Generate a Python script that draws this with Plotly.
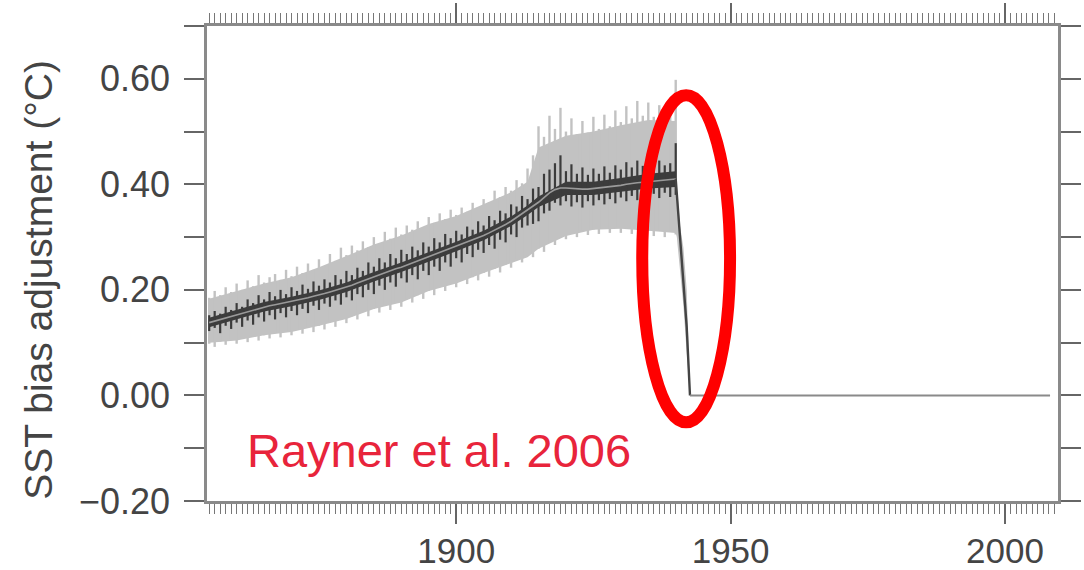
import plotly.graph_objects as go

# ---------------- data ----------------
years = list(range(1855, 1941))

center = [0.138, 0.141, 0.144, 0.147, 0.150, 0.153, 0.156, 0.159, 0.162, 0.165,
          0.168, 0.170, 0.172, 0.174, 0.176, 0.178, 0.180, 0.183, 0.185, 0.188,
          0.190, 0.193, 0.196, 0.199, 0.202, 0.205, 0.209, 0.213, 0.217, 0.221,
          0.225, 0.229, 0.232, 0.236, 0.240, 0.243, 0.247, 0.251, 0.254, 0.258,
          0.262, 0.266, 0.270, 0.274, 0.278, 0.282, 0.286, 0.290, 0.294, 0.298,
          0.303, 0.308, 0.313, 0.318, 0.324, 0.330, 0.337, 0.344, 0.351, 0.358,
          0.366, 0.375, 0.384, 0.390, 0.393, 0.393, 0.392, 0.391, 0.391, 0.391,
          0.392, 0.393, 0.394, 0.395, 0.396, 0.398, 0.400, 0.402, 0.403, 0.404,
          0.405, 0.406, 0.407, 0.408, 0.409, 0.410]

# yearly spike extremes of the uncertainty range
gray_hi = [0.185, 0.198, 0.190, 0.205, 0.196, 0.212, 0.200, 0.218, 0.207, 0.228,
           0.214, 0.224, 0.230, 0.219, 0.238, 0.226, 0.244, 0.232, 0.250, 0.238,
           0.258, 0.245, 0.268, 0.255, 0.280, 0.266, 0.284, 0.275, 0.292, 0.281,
           0.300, 0.288, 0.310, 0.297, 0.318, 0.305, 0.322, 0.314, 0.330, 0.318,
           0.338, 0.327, 0.345, 0.334, 0.352, 0.342, 0.356, 0.348, 0.365, 0.355,
           0.372, 0.366, 0.388, 0.376, 0.395, 0.388, 0.408, 0.402, 0.430, 0.455,
           0.510, 0.490, 0.530, 0.505, 0.545, 0.500, 0.525, 0.495, 0.520, 0.498,
           0.528, 0.505, 0.532, 0.510, 0.540, 0.518, 0.548, 0.525, 0.558, 0.530,
           0.555, 0.528, 0.550, 0.522, 0.540, 0.598]

gray_lo = [0.098, 0.092, 0.102, 0.096, 0.106, 0.098, 0.108, 0.101, 0.112, 0.104,
           0.114, 0.108, 0.118, 0.110, 0.121, 0.114, 0.124, 0.117, 0.128, 0.120,
           0.132, 0.125, 0.138, 0.130, 0.144, 0.137, 0.150, 0.144, 0.158, 0.150,
           0.164, 0.157, 0.170, 0.162, 0.176, 0.168, 0.182, 0.176, 0.190, 0.183,
           0.198, 0.190, 0.205, 0.198, 0.212, 0.205, 0.218, 0.211, 0.224, 0.218,
           0.232, 0.225, 0.240, 0.233, 0.248, 0.242, 0.258, 0.252, 0.265, 0.262,
           0.278, 0.272, 0.290, 0.285, 0.300, 0.296, 0.308, 0.300, 0.312, 0.304,
           0.314, 0.306, 0.316, 0.308, 0.318, 0.308, 0.316, 0.306, 0.314, 0.304,
           0.312, 0.302, 0.312, 0.300, 0.310, 0.305]

# yearly spike extremes of the central estimate
dark_hi = [0.152, 0.160, 0.155, 0.168, 0.162, 0.175, 0.168, 0.182, 0.175, 0.190,
           0.182, 0.196, 0.188, 0.200, 0.192, 0.205, 0.198, 0.210, 0.202, 0.216,
           0.208, 0.220, 0.214, 0.228, 0.220, 0.236, 0.228, 0.242, 0.236, 0.252,
           0.244, 0.260, 0.252, 0.268, 0.260, 0.276, 0.268, 0.282, 0.275, 0.290,
           0.282, 0.298, 0.290, 0.306, 0.298, 0.312, 0.305, 0.320, 0.314, 0.330,
           0.322, 0.340, 0.332, 0.350, 0.345, 0.362, 0.358, 0.378, 0.372, 0.392,
           0.395, 0.420, 0.428, 0.440, 0.455, 0.425, 0.438, 0.420, 0.432, 0.418,
           0.430, 0.420, 0.434, 0.422, 0.436, 0.428, 0.442, 0.432, 0.445, 0.435,
           0.446, 0.436, 0.445, 0.436, 0.440, 0.478]

dark_lo = [0.122, 0.128, 0.118, 0.132, 0.126, 0.138, 0.130, 0.142, 0.134, 0.148,
           0.140, 0.152, 0.144, 0.156, 0.148, 0.160, 0.152, 0.164, 0.156, 0.170,
           0.162, 0.174, 0.168, 0.180, 0.172, 0.186, 0.180, 0.192, 0.186, 0.200,
           0.192, 0.208, 0.200, 0.214, 0.206, 0.222, 0.214, 0.228, 0.220, 0.236,
           0.228, 0.244, 0.236, 0.252, 0.244, 0.260, 0.252, 0.268, 0.262, 0.276,
           0.270, 0.285, 0.278, 0.295, 0.290, 0.305, 0.300, 0.318, 0.322, 0.325,
           0.330, 0.345, 0.350, 0.365, 0.360, 0.368, 0.358, 0.366, 0.356, 0.368,
           0.360, 0.370, 0.362, 0.372, 0.364, 0.375, 0.368, 0.378, 0.370, 0.380,
           0.372, 0.382, 0.374, 0.384, 0.376, 0.380]

# body envelopes (between the spikes), read every five years or so
base_years = [1855, 1860, 1865, 1870, 1875, 1880, 1885, 1890, 1895, 1900,
              1905, 1910, 1913, 1915, 1920, 1925, 1930, 1935, 1940]
gray_base_hi = [0.183, 0.198, 0.212, 0.224, 0.243, 0.264, 0.286, 0.303, 0.325, 0.340,
                0.362, 0.385, 0.405, 0.470, 0.492, 0.500, 0.512, 0.522, 0.520]
gray_base_lo = [0.100, 0.104, 0.114, 0.120, 0.132, 0.145, 0.164, 0.176, 0.198, 0.212,
                0.232, 0.250, 0.262, 0.278, 0.302, 0.314, 0.316, 0.312, 0.308]
dark_base_hi = [0.147, 0.162, 0.177, 0.187, 0.199, 0.214, 0.234, 0.252, 0.271, 0.291,
                0.312, 0.339, 0.360, 0.377, 0.405, 0.405, 0.412, 0.420, 0.425]
dark_base_lo = [0.129, 0.144, 0.159, 0.169, 0.181, 0.196, 0.216, 0.234, 0.253, 0.273,
                0.294, 0.321, 0.342, 0.357, 0.380, 0.380, 0.386, 0.392, 0.395]

# rapid drop of the adjustment around 1940-1942
drop_years = [1940.2, 1940.8, 1941.4, 1942.0, 1942.6]
drop_center = [0.382, 0.294, 0.205, 0.130, 0.0]
drop_gray_hi = [0.40, 0.32, 0.28, 0.20, 0.0]
drop_gray_lo = [0.30, 0.24, 0.17, 0.08, 0.0]

# zero adjustment after 1942
zero_years = [1942.6, 2008.2]
zero_values = [0.0, 0.0]

y_tickvals = [-0.2, 0.0, 0.2, 0.4, 0.6]
y_ticktext = ["\u22120.20", "0.00", "0.20", "0.40", "0.60"]
x_tickvals = [1900, 1950, 2000]
x_ticktext = ["1900", "1950", "2000"]

FONT = "Liberation Sans, Arial, Helvetica, sans-serif"
GRAY_BAND = "#c2c2c2"
DARK = "#3c3c3c"


def spikes(xs, lo, hi):
    """vertical segments from lo to hi at each x, separated by gaps"""
    sx, sy = [], []
    for x, l, h in zip(xs, lo, hi):
        sx += [x, x, None]
        sy += [l, h, None]
    return sx, sy


fig = go.Figure()

# light gray uncertainty band: body + yearly spikes
fig.add_trace(go.Scatter(x=base_years + drop_years, y=gray_base_lo + drop_gray_lo, mode="lines",
                         line=dict(width=0), showlegend=False, hoverinfo="skip"))
fig.add_trace(go.Scatter(x=base_years + drop_years, y=gray_base_hi + drop_gray_hi, mode="lines",
                         line=dict(width=0), fill="tonexty", fillcolor=GRAY_BAND,
                         showlegend=False, hoverinfo="skip"))
gx, gy = spikes(years, gray_lo, gray_hi)
fig.add_trace(go.Scatter(x=gx, y=gy, mode="lines", connectgaps=False,
                         line=dict(width=2.4, color=GRAY_BAND), showlegend=False, hoverinfo="skip"))

# dark central estimate: body + yearly spikes
fig.add_trace(go.Scatter(x=base_years, y=dark_base_lo, mode="lines",
                         line=dict(width=0), showlegend=False, hoverinfo="skip"))
fig.add_trace(go.Scatter(x=base_years, y=dark_base_hi, mode="lines",
                         line=dict(width=0), fill="tonexty", fillcolor=DARK,
                         showlegend=False, hoverinfo="skip"))
dx, dy = spikes(years, dark_lo, dark_hi)
fig.add_trace(go.Scatter(x=dx, y=dy, mode="lines", connectgaps=False,
                         line=dict(width=2.2, color=DARK), showlegend=False, hoverinfo="skip"))

# smoothed centre line
fig.add_trace(go.Scatter(x=years, y=center, mode="lines",
                         line=dict(width=1.6, color="#9a9a9a"), showlegend=False, hoverinfo="skip"))
# drop line
fig.add_trace(go.Scatter(x=[years[-1]] + drop_years, y=[center[-1]] + drop_center, mode="lines",
                         line=dict(width=2.4, color="#444444"), showlegend=False, hoverinfo="skip"))
# zero line
fig.add_trace(go.Scatter(x=zero_years, y=zero_values, mode="lines",
                         line=dict(width=2, color="#8a8a8a"), showlegend=False, hoverinfo="skip"))

# red ellipse highlight
fig.add_shape(type="circle", xref="x", yref="y",
              x0=1933.9, x1=1949.9, y0=-0.051, y1=0.569,
              line=dict(color="#ff0000", width=12))

fig.add_annotation(text="Rayner et al. 2006", xref="x", yref="y",
                   x=1861.6, y=-0.105, xanchor="left", yanchor="middle",
                   showarrow=False, font=dict(family=FONT, size=47, color="#e8243b"))

fig.add_annotation(text="SST bias adjustment (\u00b0C)", xref="paper", yref="paper",
                   x=-0.199, y=0.465, xanchor="center", yanchor="middle",
                   textangle=-90, showarrow=False,
                   font=dict(family=FONT, size=39, color="#444444"))

axis_common = dict(showline=True, linecolor="#8a8a8a", linewidth=2.5, mirror="ticks",
                   ticks="outside", ticklen=20, tickwidth=1.5, tickcolor="#666666",
                   showgrid=False, zeroline=False, automargin=False)

fig.update_xaxes(range=[1854.6, 2009.65], tickvals=x_tickvals, ticktext=x_ticktext,
                 minor=dict(ticks="outside", dtick=1, tick0=1900, ticklen=10,
                            tickwidth=1, tickcolor="#777777"),
                 tickfont=dict(family=FONT, size=35, color="#444444"),
                 ticklabelstandoff=-3, **axis_common)
fig.update_yaxes(range=[-0.2, 0.7], tickvals=y_tickvals, ticktext=y_ticktext,
                 minor=dict(ticks="outside", dtick=0.1, tick0=0, ticklen=20,
                            tickwidth=1.5, tickcolor="#666666"),
                 tickfont=dict(family=FONT, size=36, color="#444444"),
                 ticklabelstandoff=7, **axis_common)

fig.update_layout(width=1084, height=570, margin=dict(l=207, r=26, t=26, b=69),
                  plot_bgcolor="white", paper_bgcolor="white",
                  font=dict(family=FONT))

fig.write_html("out.html")
